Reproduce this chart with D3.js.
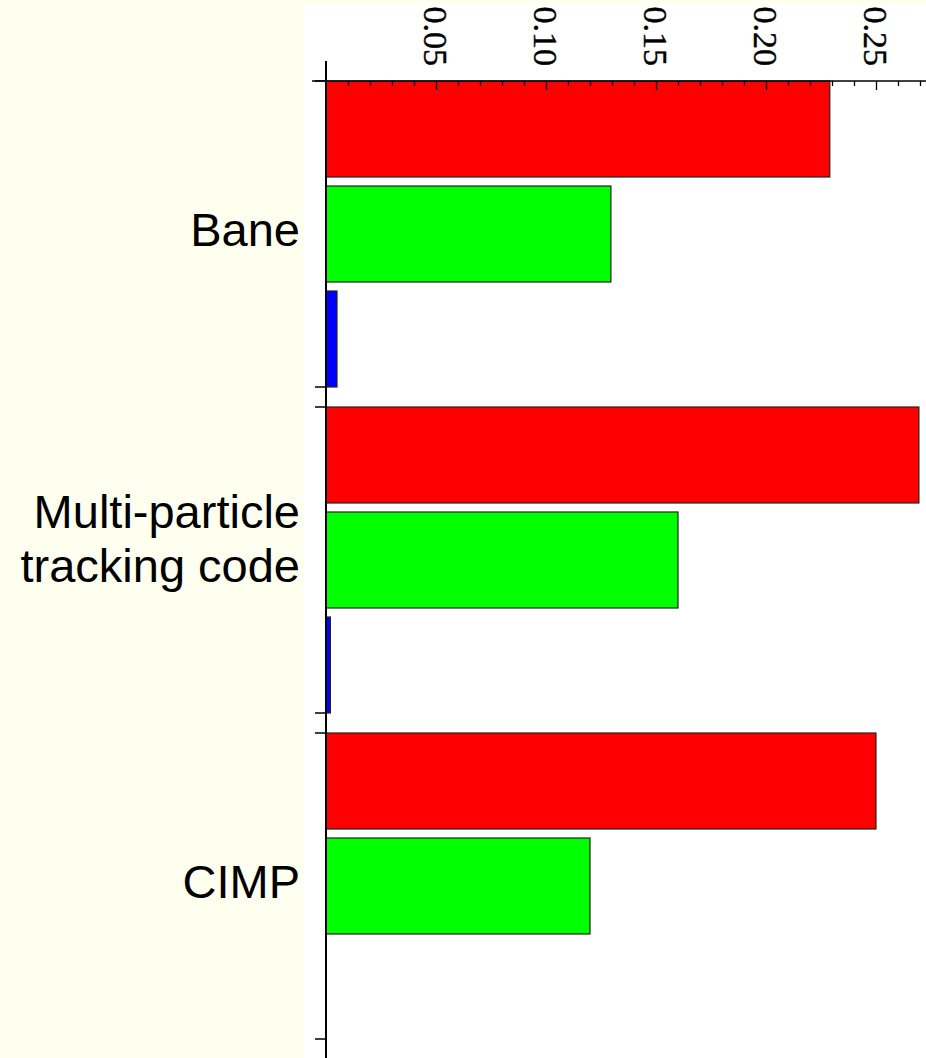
<!DOCTYPE html>
<html>
<head>
<meta charset="utf-8">
<script src="https://cdn.jsdelivr.net/npm/d3@7"></script>
<style>
  body { margin: 0; background: #fffff0; }
  svg { display: block; }
</style>
</head>
<body>
<script>

var width = 926,
  height = 1058;

// categories (top to bottom), one label line per "\n"
var categories = ["Bane", "Multi-particle\ntracking code", "CIMP"];
var seriesNames = ["red", "green", "blue"];
var seriesColors = ["#ff0000", "#00ff00", "#0000ff"];

// values
var redValues = [0.229, 0.2695, 0.250];
var greenValues = [0.1295, 0.160, 0.120];
var blueValues = [0.005, 0.002, 0];

var majorTicks = [0.05, 0.10, 0.15, 0.20, 0.25];
var tickLabels = ["0.05", "0.10", "0.15", "0.20", "0.25"];
var minorTicks = [0.01, 0.02, 0.03, 0.04, 0.06, 0.07, 0.08, 0.09, 0.11, 0.12, 0.13, 0.14,
  0.16, 0.17, 0.18, 0.19, 0.21, 0.22, 0.23, 0.24, 0.26, 0.27];

var data = categories.map(function(c, i) {
  return {cat: c, values: [redValues[i], greenValues[i], blueValues[i]]};
});

var x0 = 326, axisY = 81;

var svg = d3.select("body").append("svg")
  .attr("width", width)
  .attr("height", height);

// white plotting area
svg.append("rect")
  .attr("x", 304).attr("y", 5)
  .attr("width", width - 304).attr("height", height - 5)
  .attr("fill", "#ffffff");

var x = d3.scaleLinear()
  .domain([0, 600 / 2200])
  .range([x0, width]);

var y = d3.scaleBand()
  .domain(categories)
  .range([axisY, 1039])
  .paddingInner(20 / 326);

var yInner = d3.scaleBand()
  .domain(seriesNames)
  .range([0, y.bandwidth()])
  .paddingInner(9 / 105);

var color = d3.scaleOrdinal().domain(seriesNames).range(seriesColors);

// bars
var groups = svg.selectAll("g.group").data(data)
  .enter().append("g")
  .attr("class", "group")
  .attr("transform", function(d){ return "translate(0," + y(d.cat) + ")"; });

groups.selectAll("rect")
  .data(function(d){ return d.values.map(function(v, j){ return {s: seriesNames[j], v: v}; }); })
  .enter().append("rect")
  .filter(function(d){ return d.v > 0; })
  .attr("x", x(0))
  .attr("y", function(d){ return yInner(d.s); })
  .attr("width", function(d){ return x(d.v) - x(0); })
  .attr("height", yInner.bandwidth())
  .attr("fill", function(d){ return color(d.s); })
  .attr("stroke", "#222")
  .attr("stroke-width", 1.2);

// top axis: ticks point down into the plot
svg.append("g")
  .attr("transform", "translate(0," + axisY + ")")
  .call(d3.axisBottom(x).tickValues(minorTicks).tickSize(5).tickSizeOuter(0).tickFormat(""))
  .call(function(g){ g.select(".domain").remove(); })
  .selectAll("line").attr("stroke", "#000").attr("stroke-width", 1.3);

svg.append("g")
  .attr("transform", "translate(0," + axisY + ")")
  .call(d3.axisBottom(x).tickValues(majorTicks).tickSize(9).tickSizeOuter(0).tickFormat(""))
  .call(function(g){ g.select(".domain").remove(); })
  .selectAll("line").attr("stroke", "#000").attr("stroke-width", 1.3);

// rotated tick labels
svg.append("g").selectAll("text")
  .data(majorTicks)
  .enter().append("text")
  .attr("transform", function(d){ return "translate(" + x(d) + "," + (axisY - 15) + ") rotate(90)"; })
  .attr("text-anchor", "end")
  .attr("dy", "0.35em")
  .style("font-family", "'Liberation Serif', 'DejaVu Serif', serif")
  .style("font-size", "34px")
  .attr("fill", "#000")
  .attr("stroke", "#000")
  .attr("stroke-width", 0.4)
  .text(function(d, i){ return tickLabels[i]; });

// axis lines
svg.append("line")
  .attr("x1", 312).attr("x2", width)
  .attr("y1", axisY).attr("y2", axisY)
  .attr("stroke", "#000").attr("stroke-width", 1.5);
svg.append("line")
  .attr("x1", x0).attr("x2", x0)
  .attr("y1", 61).attr("y2", height)
  .attr("stroke", "#000").attr("stroke-width", 2);

// category ticks at start and end of each group
var catTicks = [];
categories.forEach(function(c){
  catTicks.push(y(c));
  catTicks.push(y(c) + y.bandwidth());
});
svg.append("g").selectAll("line")
  .data(catTicks)
  .enter().append("line")
  .attr("x1", 315).attr("x2", x0)
  .attr("y1", function(d){ return d; })
  .attr("y2", function(d){ return d; })
  .attr("stroke", "#000").attr("stroke-width", 1.5);

// category labels
var labels = svg.append("g").selectAll("text")
  .data(categories)
  .enter().append("text")
  .attr("x", 300)
  .attr("y", function(d){ return y(d) + y.bandwidth() / 2; })
  .attr("text-anchor", "end")
  .style("font-family", "'Liberation Sans', Arial, sans-serif")
  .style("font-size", "47px")
  .attr("fill", "#000");

labels.each(function(d){
  var lines = d.split("\n");
  var t = d3.select(this);
  lines.forEach(function(line, i){
    t.append("tspan")
      .attr("x", 300)
      .attr("dy", i == 0 ? (0.26 - (lines.length - 1) * 0.95) + "em" : "1.15em")
      .text(line);
  });
});

</script>
</body>
</html>
